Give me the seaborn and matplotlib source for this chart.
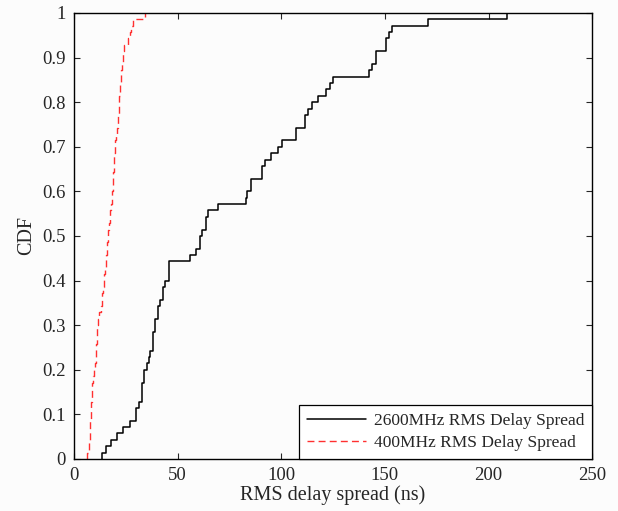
import numpy as np
import pandas as pd
import matplotlib
matplotlib.use("Agg")
import matplotlib.pyplot as plt
import seaborn as sns

# RMS delay spread samples (ns)
ds_2600 = [13.4, 15.4, 17.7, 20.9, 23.8, 27.0, 29.9, 29.9, 31.2, 32.7,
           32.7, 32.7, 33.6, 33.6, 35.1, 36.2, 36.9, 38.0, 38.0, 38.0,
           39.1, 39.1, 40.4, 40.4, 41.5, 42.8, 42.8, 44.0, 45.7, 45.7,
           45.7, 56.2, 59.0, 60.8, 60.8, 61.6, 63.5, 63.5, 64.5, 69.4,
           83.0, 83.7, 85.4, 85.4, 90.8, 90.8, 92.2, 95.1, 98.6, 100.2,
           107.0, 107.0, 111.5, 111.5, 113.1, 115.0, 117.9, 121.6, 123.6, 124.8,
           142.5, 143.7, 145.7, 145.7, 150.6, 150.6, 152.0, 153.3, 171.0, 208.8]

ds_400 = [6.1, 7.2, 7.4, 7.5, 7.7, 7.9, 8.0, 8.2, 8.4, 8.5,
          8.7, 8.9, 9.3, 9.6, 10.0, 10.4, 10.6, 10.8, 11.0, 11.2,
          11.3, 11.8, 12.3, 12.8, 13.3, 13.7, 14.1, 14.4, 14.7, 15.0,
          15.3, 15.5, 15.7, 16.0, 16.2, 16.5, 16.8, 17.2, 17.4, 17.8,
          18.2, 18.5, 18.7, 18.8, 19.0, 19.1, 19.3, 19.5, 19.7, 20.0,
          20.5, 20.8, 21.0, 21.2, 21.5, 21.7, 21.9, 22.1, 22.4, 22.6,
          22.9, 23.2, 23.5, 23.8, 24.1, 26.3, 27.0, 27.6, 28.6, 34.5]

labels = ["2600MHz RMS Delay Spread", "400MHz RMS Delay Spread"]
yticklabels = ["0", "0.1", "0.2", "0.3", "0.4", "0.5", "0.6", "0.7", "0.8", "0.9", "1"]

sns.set_style("ticks")
plt.rcParams["font.family"] = ["Liberation Serif", "DejaVu Serif"]
plt.rcParams["xtick.direction"] = "in"
plt.rcParams["ytick.direction"] = "in"

fig = plt.figure(figsize=(6.18, 5.11), dpi=100, facecolor="#fcfcfc")
ax = fig.add_axes([0.1197, 0.1018, 0.8385, 0.8728])
ax.set_facecolor("#fcfcfc")

sns.ecdfplot(x=ds_2600, ax=ax, color="black", linewidth=1.1, label=labels[0])
sns.ecdfplot(x=ds_400, ax=ax, color="#ff3030", linewidth=1.0,
             linestyle=(0, (5, 3)), label=labels[1])

ax.set_xlim(0, 250)
ax.set_ylim(0, 1)
ax.set_xticks(np.arange(0, 251, 50))
ax.set_yticks(np.arange(0, 1.01, 0.1))
ax.set_yticklabels(yticklabels)
ax.tick_params(axis="both", labelsize=13.5, length=4, width=0.8,
               top=True, right=True, pad=6)
for s in ax.spines.values():
    s.set_linewidth(1.0)
    s.set_color("black")

ax.set_xlabel("RMS delay spread (ns)", fontsize=14.5, labelpad=1)
ax.set_ylabel("CDF", fontsize=14.5, labelpad=4)

leg = ax.legend(loc="lower right", borderaxespad=0, fancybox=False,
                edgecolor="black", framealpha=1, fontsize=12.5,
                handlelength=3.4, handletextpad=0.45, borderpad=0.45,
                labelspacing=0.35)
leg.get_frame().set_linewidth(0.9)

fig.savefig("out.png", dpi=100, facecolor=fig.get_facecolor())
